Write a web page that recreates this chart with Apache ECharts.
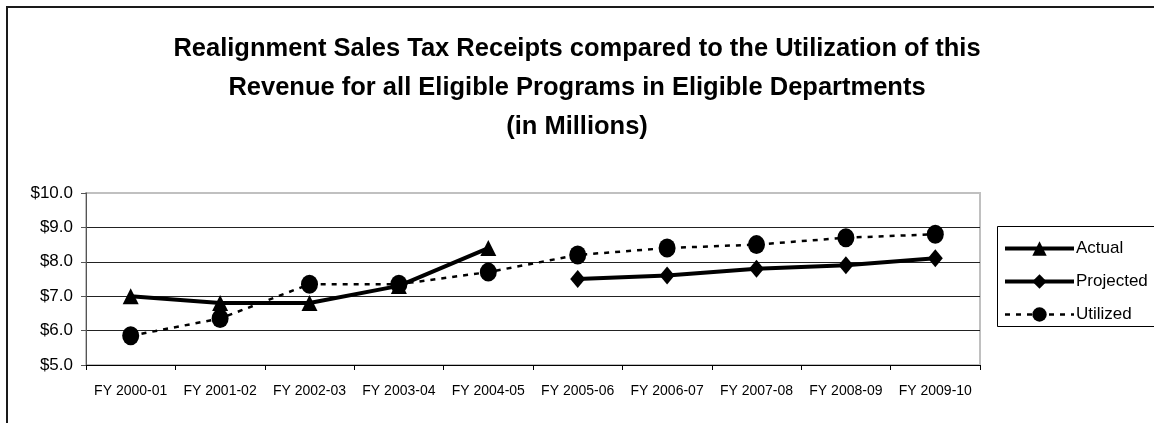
<!DOCTYPE html>
<html>
<head>
<meta charset="utf-8">
<script src="https://cdn.jsdelivr.net/npm/echarts@6/dist/echarts.min.js"></script>
<style>
  html, body { margin: 0; padding: 0; background: #fff; }
  #chart { width: 1154px; height: 423px; }
</style>
</head>
<body>
<div id="chart"></div>
<script>
// Fiscal years on the category axis
const fiscalYears = ['FY 2000-01', 'FY 2001-02', 'FY 2002-03', 'FY 2003-04', 'FY 2004-05',
                     'FY 2005-06', 'FY 2006-07', 'FY 2007-08', 'FY 2008-09', 'FY 2009-10'];
// Sales tax receipts, $ millions (null where no value)
const actual    = [7.0, 6.8, 6.8, 7.3, 8.4, null, null, null, null, null];
const projected = [null, null, null, null, null, 7.5, 7.6, 7.8, 7.9, 8.1];
const utilized  = [5.85, 6.35, 7.35, 7.35, 7.7, 8.2, 8.4, 8.5, 8.7, 8.8];
// Value axis range and step
const yMin = 5, yMax = 10, yStep = 1;

const FONT = '"Liberation Sans", Arial, sans-serif';

const chart = echarts.init(document.getElementById('chart'), null, { renderer: 'canvas' });

chart.setOption({
  backgroundColor: '#ffffff',
  animation: false,
  title: {
    text: 'Realignment Sales Tax Receipts compared to the Utilization of this\nRevenue for all Eligible Programs in Eligible Departments\n(in Millions)',
    left: 'center',
    top: 29,
    padding: 0,
    textStyle: {
      fontFamily: FONT,
      fontSize: 25.5,
      fontWeight: 'bold',
      color: '#000',
      lineHeight: 39
    }
  },
  legend: {
    orient: 'vertical',
    left: 1003,
    top: 240,
    itemWidth: 69,
    itemHeight: 18,
    itemGap: 16,
    padding: 0,
    lineStyle: { width: 'inherit' },
    textStyle: { fontFamily: FONT, fontSize: 17, color: '#000', padding: [0, 0, 0, -3] },
    data: ['Actual', 'Projected', 'Utilized']
  },
  graphic: [
    {
      type: 'rect', silent: true, z: 100,
      shape: { x: 7, y: 7, width: 1200, height: 500 },
      style: { fill: 'none', stroke: '#1a1a1a', lineWidth: 2 }
    },
    {
      type: 'rect', silent: true, z: 100,
      shape: { x: 997.5, y: 226.5, width: 200, height: 100 },
      style: { fill: 'none', stroke: '#000', lineWidth: 1 }
    }
  ],
  grid: {
    left: 86, right: 174, top: 193, bottom: 58,
    show: true,
    borderColor: '#c0c0c0',
    borderWidth: 2,
    backgroundColor: 'transparent'
  },
  xAxis: {
    type: 'category',
    data: fiscalYears,
    boundaryGap: true,
    axisLine: { lineStyle: { color: '#000', width: 1 } },
    axisTick: { show: true, length: 5, inside: false, lineStyle: { color: '#000' } },
    axisLabel: { fontFamily: FONT, fontSize: 14, color: '#000', margin: 19, interval: 0 },
    splitLine: { show: false }
  },
  yAxis: {
    type: 'value',
    min: yMin,
    max: yMax,
    interval: yStep,
    axisLine: { show: true, lineStyle: { color: '#555', width: 1 } },
    axisTick: { show: true, length: 5, lineStyle: { color: '#555' } },
    axisLabel: {
      fontFamily: FONT, fontSize: 17, color: '#000', margin: 13,
      formatter: v => '$' + v.toFixed(1)
    },
    splitLine: {
      show: true,
      lineStyle: { color: ['#000', '#222', '#222', '#222', '#222', '#c0c0c0'], width: 1 }
    }
  },
  series: [
    {
      name: 'Actual',
      type: 'line',
      data: actual,
      symbol: 'triangle',
      symbolSize: [16, 16],
      showAllSymbol: true,
      connectNulls: false,
      lineStyle: { color: '#000', width: 4 },
      itemStyle: { color: '#000' },
      z: 3
    },
    {
      name: 'Projected',
      type: 'line',
      data: projected,
      symbol: 'diamond',
      symbolSize: [15, 18],
      showAllSymbol: true,
      connectNulls: false,
      lineStyle: { color: '#000', width: 4 },
      itemStyle: { color: '#000' },
      z: 3
    },
    {
      name: 'Utilized',
      type: 'line',
      data: utilized,
      symbol: 'circle',
      symbolSize: [17, 19],
      showAllSymbol: true,
      lineStyle: { color: '#000', width: 2.5, type: [5, 6] },
      itemStyle: { color: '#000' },
      z: 4
    }
  ]
});
</script>
</body>
</html>
